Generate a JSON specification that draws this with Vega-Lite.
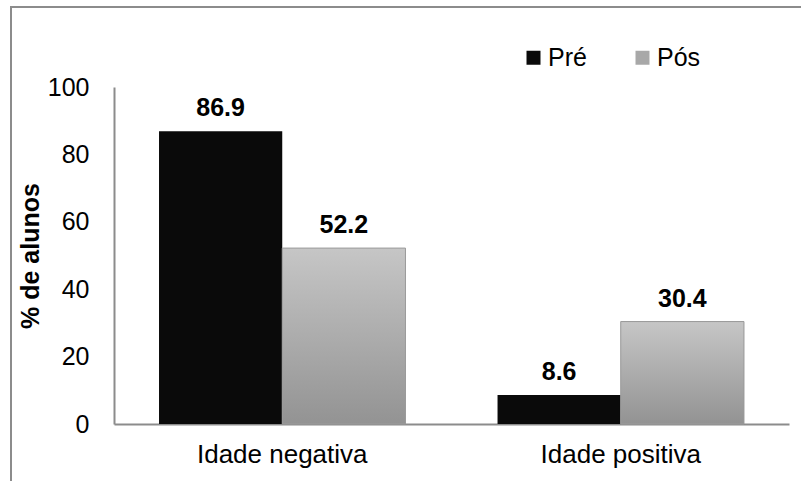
{
  "$schema": "https://vega.github.io/schema/vega-lite/v6.json",
  "width": 795,
  "height": 480,
  "autosize": {"type": "none"},
  "padding": {"left": 11, "top": 7, "right": 0, "bottom": 0},
  "background": "white",
  "config": {
    "font": "Liberation Sans",
    "view": {"stroke": "#8c8c8c", "strokeWidth": 2}
  },
  "data": {
    "values": [
      {"grupo": "Idade negativa", "momento": "Pré", "pct": 86.9},
      {"grupo": "Idade negativa", "momento": "Pós", "pct": 52.2},
      {"grupo": "Idade positiva", "momento": "Pré", "pct": 8.6},
      {"grupo": "Idade positiva", "momento": "Pós", "pct": 30.4}
    ]
  },
  "encoding": {
    "x": {
      "field": "grupo",
      "type": "nominal",
      "sort": ["Idade negativa", "Idade positiva"],
      "scale": {"range": [103, 778], "paddingInner": 0.272, "paddingOuter": 0.133},
      "axis": {
        "title": null,
        "offset": -63,
        "ticks": false,
        "labelAngle": 0,
        "labelPadding": 17,
        "labelFontSize": 26,
        "labelColor": "#000000",
        "domainColor": "#8c8c8c",
        "domainWidth": 2
      }
    },
    "xOffset": {
      "field": "momento",
      "type": "nominal",
      "sort": ["Pré", "Pós"],
      "scale": {"paddingInner": 0, "paddingOuter": 0}
    },
    "y": {
      "field": "pct",
      "type": "quantitative",
      "scale": {"domain": [0, 100], "range": [417, 80], "nice": false},
      "axis": {
        "title": "% de alunos",
        "titleFontSize": 25,
        "titleFontWeight": "bold",
        "titleColor": "#000000",
        "titlePadding": 4,
        "offset": -103,
        "values": [0, 20, 40, 60, 80, 100],
        "ticks": false,
        "grid": false,
        "labelPadding": 25,
        "labelFontSize": 25,
        "labelColor": "#000000",
        "domainColor": "#8c8c8c",
        "domainWidth": 2
      }
    }
  },
  "layer": [
    {
      "mark": {"type": "bar"},
      "encoding": {
        "color": {
          "field": "momento",
          "type": "nominal",
          "sort": ["Pré", "Pós"],
          "scale": {"domain": ["Pré", "Pós"], "range": ["#0a0a0a", "#a8a8a8"]},
          "legend": {
            "title": null,
            "orient": "none",
            "direction": "horizontal",
            "legendX": 510,
            "legendY": 38,
            "padding": 0,
            "symbolType": "square",
            "symbolSize": 196,
            "symbolStrokeWidth": 0,
            "labelOffset": 2,
            "labelFontSize": 25,
            "labelColor": "#000000",
            "columnPadding": 43
          }
        }
      }
    },
    {
      "transform": [{"filter": "datum.momento === 'Pós'"}],
      "mark": {
        "type": "bar",
        "fill": {
          "gradient": "linear",
          "x1": 0, "y1": 0, "x2": 0, "y2": 1,
          "stops": [
            {"offset": 0, "color": "#c6c6c6"},
            {"offset": 1, "color": "#939393"}
          ]
        },
        "stroke": "#9a9a9a",
        "strokeWidth": 1
      }
    },
    {
      "mark": {
        "type": "text",
        "baseline": "alphabetic",
        "dy": -15,
        "fontSize": 25,
        "fontWeight": "bold",
        "color": "#000000"
      },
      "encoding": {
        "text": {"field": "pct", "type": "quantitative", "format": ".1f"}
      }
    }
  ]
}
